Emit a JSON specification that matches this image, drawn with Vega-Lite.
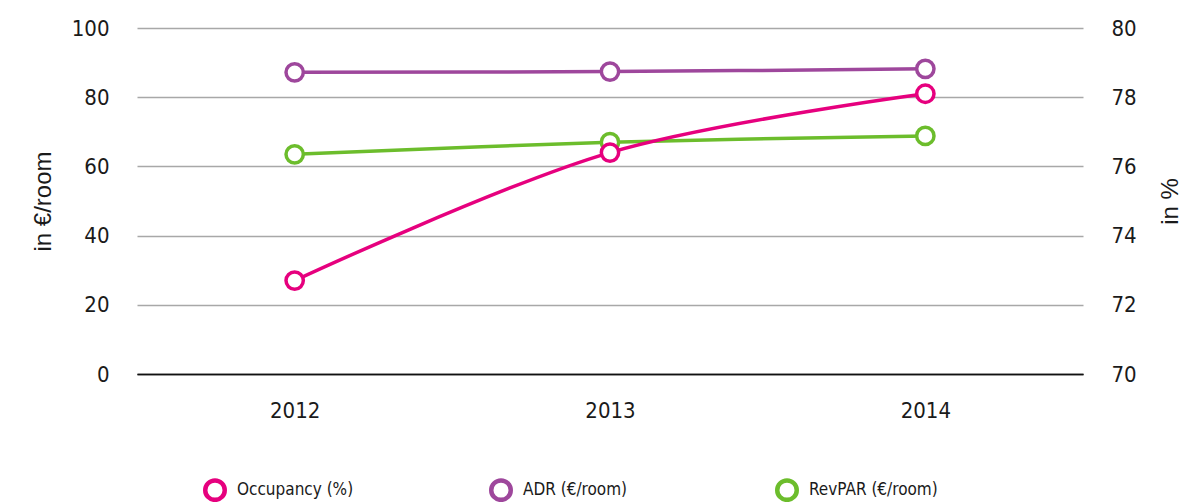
{
  "$schema": "https://vega.github.io/schema/vega-lite/v6.json",
  "width": 946,
  "height": 346,
  "autosize": {"type": "none"},
  "padding": {"left": 137, "top": 28, "right": 108, "bottom": 128},
  "background": "white",
  "config": {
    "view": {"stroke": null},
    "font": "'DejaVu Sans Condensed', Roboto, sans-serif",
    "axis": {"labelColor": "#1a1a1a", "titleColor": "#1a1a1a", "labelFont": "'DejaVu Sans Condensed', Roboto, sans-serif", "titleFont": "Liberation Sans", "titleFontWeight": "normal", "labelFontSize": 22, "titleFontSize": 24}
  },
  "data": {
    "values": [
      {"year": "2012", "series": "Occupancy (%)", "value": 72.7},
      {"year": "2013", "series": "Occupancy (%)", "value": 76.4},
      {"year": "2014", "series": "Occupancy (%)", "value": 78.1},
      {"year": "2012", "series": "ADR (€/room)", "value": 87.2},
      {"year": "2013", "series": "ADR (€/room)", "value": 87.4},
      {"year": "2014", "series": "ADR (€/room)", "value": 88.2},
      {"year": "2012", "series": "RevPAR (€/room)", "value": 63.5},
      {"year": "2013", "series": "RevPAR (€/room)", "value": 67.0},
      {"year": "2014", "series": "RevPAR (€/room)", "value": 68.8}
    ]
  },
  "encoding": {
    "x": {
      "field": "year", "type": "ordinal",
      "scale": {"type": "point", "padding": 0.5},
      "axis": {"title": null, "labelAngle": 0, "domain": true, "domainColor": "#111111", "domainWidth": 1.5, "ticks": false, "labelPadding": 26, "grid": false}
    },
    "color": {
      "field": "series", "type": "nominal",
      "scale": {"domain": ["Occupancy (%)", "ADR (€/room)", "RevPAR (€/room)"], "range": ["#E6007E", "#9E479C", "#6CBD2C"]},
      "legend": {
        "title": null, "orient": "none", "direction": "horizontal",
        "legendX": 66, "legendY": 450, "padding": 0, "gridAlign": "all",
        "symbolType": "circle", "symbolSize": 380, "symbolStrokeWidth": 4.5, "symbolFillColor": "white",
        "labelFont": "'DejaVu Sans Condensed', Roboto, sans-serif", "labelFontSize": 17, "labelColor": "#1a1a1a", "labelOffset": 10,
        "columnPadding": 116, "labelLimit": 300
      }
    }
  },
  "layer": [
    {
      "transform": [{"filter": "datum.series !== 'Occupancy (%)'"}],
      "encoding": {
        "y": {
          "field": "value", "type": "quantitative",
          "scale": {"domain": [0, 100], "nice": false, "zero": true},
          "axis": {
            "orient": "left", "title": "in €/room", "values": [0, 20, 40, 60, 80, 100],
            "domain": false, "ticks": false, "labelPadding": 28, "titlePadding": 16,
            "grid": true, "gridWidth": 1.5,
            "gridColor": {"condition": {"test": "datum.value === 0", "value": "#111111"}, "value": "#A8A8A8"}
          }
        }
      },
      "layer": [
        {"mark": {"type": "line", "strokeWidth": 3.5, "interpolate": "catmull-rom"}},
        {"mark": {"type": "point", "filled": false, "fill": "white", "fillOpacity": 1, "opacity": 1, "size": 300, "strokeWidth": 3.5, "shape": "circle"}}
      ]
    },
    {
      "transform": [{"filter": "datum.series === 'Occupancy (%)'"}],
      "encoding": {
        "y": {
          "field": "value", "type": "quantitative",
          "scale": {"domain": [70, 80], "nice": false, "zero": false},
          "axis": {
            "orient": "right", "title": "in %", "titleAngle": 270, "titleBaseline": "top", "values": [70, 72, 74, 76, 78, 80],
            "domain": false, "ticks": false, "grid": false, "labelPadding": 28, "titlePadding": 22
          }
        }
      },
      "layer": [
        {"mark": {"type": "line", "strokeWidth": 3.5, "interpolate": "catmull-rom"}},
        {"mark": {"type": "point", "filled": false, "fill": "white", "fillOpacity": 1, "opacity": 1, "size": 300, "strokeWidth": 3.5, "shape": "circle"}}
      ]
    }
  ],
  "resolve": {"scale": {"y": "independent"}}
}
